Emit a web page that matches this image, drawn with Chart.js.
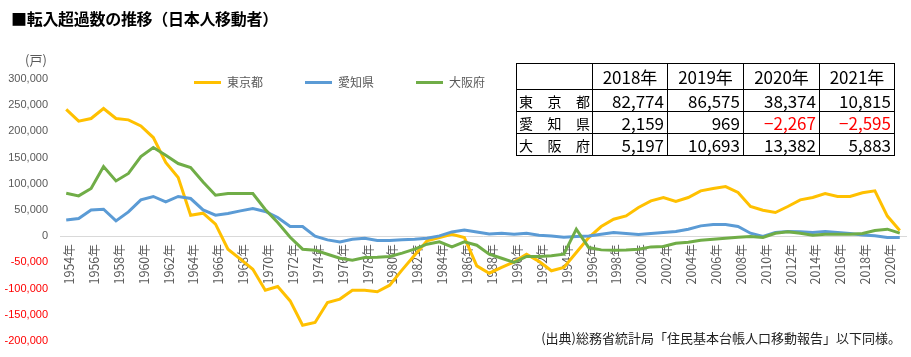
<!DOCTYPE html>
<html><head><meta charset="utf-8">
<script src="https://cdn.jsdelivr.net/npm/chart.js@4"></script>
<style>
html,body{margin:0;padding:0;background:#fff;}
#wrap{position:relative;width:911px;height:357px;overflow:hidden;font-family:"Noto Sans CJK JP",sans-serif;}
#c{position:absolute;left:0;top:0;}
.title{position:absolute;left:11px;top:7px;font-size:16px;font-weight:bold;color:#000;white-space:nowrap;line-height:22px;letter-spacing:-0.3px;}
.unit{position:absolute;left:25px;top:51px;font-size:13px;color:#595959;line-height:18px;}
.src{position:absolute;right:10px;top:329px;font-size:13px;color:#222;white-space:nowrap;line-height:18px;}
table{position:absolute;left:516px;top:63px;border-collapse:collapse;background:#fff;}
td{border:1px solid #000;padding:0 3px;height:21px;font-family:"Liberation Sans Narrow","Noto Sans CJK JP",sans-serif;font-size:17px;color:#000;text-align:right;line-height:20px;}
tr.h td{height:25px;text-align:center;}
td.lab{text-align:left;font-family:"Noto Sans CJK JP",sans-serif;font-size:14px;padding:0 2px;}
td.lab div{display:flex;justify-content:space-between;}
td.neg{color:#FF0000;}
</style></head>
<body>
<div id="wrap">
<canvas id="c" width="911" height="357"></canvas>
<div class="title">■転入超過数の推移（日本人移動者）</div>
<div class="unit">(戸)</div>
<table id="tbl"></table>
<div class="src">(出典)総務省統計局「住民基本台帳人口移動報告」以下同様。</div>
</div>
<script>
const years = [];
for (let y = 1954; y <= 2021; y++) years.push(y + '年');

const seriesNames = ['東京都', '愛知県', '大阪府'];

const tokyo = [242000,219500,224600,243700,224600,222000,210500,188300,140600,112000,
40000,43900,22900,-24800,-43900,-63000,-103000,-96000,-123500,-170000,
-164700,-126500,-120000,-103000,-103000,-106000,-93500,-64300,-36300,-9000,
-2500,3800,-2500,-56700,-70600,-59700,-49000,-34400,-48000,-66000,
-59800,-31000,-2500,18500,32400,38700,54700,67400,73800,66200,
73800,86500,91000,94800,83400,56700,49600,45200,56700,69300,
73800,81500,75800,75800,82774,86575,38374,10815];

const aichi = [31100,33800,50200,51500,29200,46400,69300,75800,65500,75800,
71900,50200,40100,43300,48300,52900,47100,35700,18500,18500,
0,-7000,-10800,-5700,-3800,-8200,-8200,-7000,-5700,-3800,
600,8200,12000,8200,4400,5700,3800,5700,1900,600,
-1900,-600,600,3800,7000,5100,3200,5100,7000,8900,
13400,19700,22300,22300,18500,5700,-600,7000,8900,8300,
7000,8900,7000,5000,2159,969,-2267,-2595];

const osaka = [82000,77000,91000,133000,105500,119700,152100,169300,154600,138700,
131100,103600,78200,81500,81500,81300,51000,26000,-2000,-24800,
-26700,-34400,-42000,-45800,-40700,-40000,-38700,-32400,-24800,-15300,
-10800,-20400,-10800,-17200,-34400,-42000,-50200,-38700,-38700,-37500,
-34400,13400,-21600,-26100,-26700,-26100,-24800,-20400,-19700,-13400,
-11500,-7600,-5700,-3800,-1900,-600,-2500,5700,8300,5700,
1900,3800,3800,3800,5197,10693,13382,5883];

const yMin = -200000, yMax = 300000, yStep = 50000;

const tableYears = ['2018年','2019年','2020年','2021年'];
const tableRows = [
  ['東','京','都'],
  ['愛','知','県'],
  ['大','阪','府']
];
const tableValues = [
  [82774, 86575, 38374, 10815],
  [2159, 969, -2267, -2595],
  [5197, 10693, 13382, 5883]
];

(function(){
  const t = document.getElementById('tbl');
  const widths = [77,76,77,77,76];
  let html = '<tr class="h"><td style="width:'+(widths[0]-8)+'px"></td>';
  tableYears.forEach((y,i)=>{ html += '<td style="width:'+(widths[i+1]-8)+'px">'+y+'</td>'; });
  html += '</tr>';
  tableRows.forEach((r,ri)=>{
    html += '<tr><td class="lab"><div><span>'+r[0]+'</span><span>'+r[1]+'</span><span>'+r[2]+'</span></div></td>';
    tableValues[ri].forEach(v=>{
      const s = v < 0 ? '−' + Math.abs(v).toLocaleString('en-US') : v.toLocaleString('en-US');
      html += '<td class="'+(v<0?'neg':'')+'">'+s+'</td>';
    });
    html += '</tr>';
  });
  t.innerHTML = html;
})();

const colors = ['#FFC000', '#5B9BD5', '#70AD47'];

const legendMover = {
  id: 'legendMover',
  afterLayout(chart) {
    const lg = chart.legend;
    if (!lg) return;
    lg.left = 152; lg.top = 34.5;
    lg.width = 700; lg.height = 100;
    lg.right = lg.left + lg.width; lg.bottom = lg.top + lg.height;
  }
};

new Chart(document.getElementById('c'), {
  type: 'line',
  data: {
    labels: years,
    datasets: [tokyo, aichi, osaka].map((d, i) => ({
      label: seriesNames[i],
      data: d,
      borderColor: colors[i],
      backgroundColor: colors[i],
      borderWidth: 3,
      pointRadius: 0,
      tension: 0,
      order: 3 - i
    }))
  },
  options: {
    responsive: false,
    animation: false,
    layout: { padding: { top: 78, bottom: 16, left: 5, right: 5 } },
    plugins: {
      title: { display: false },
      tooltip: { enabled: false },
      legend: {
        display: true,
        position: 'top',
        align: 'start',
        maxHeight: 1,
        labels: {
          boxWidth: 27,
          boxHeight: 3,
          padding: 42,
          color: '#595959',
          font: { family: '"Noto Sans CJK JP", sans-serif', size: 12 },
          sort: (a, b) => a.datasetIndex - b.datasetIndex,
          generateLabels: (chart) => chart.data.datasets.map((ds, i) => ({
            text: ds.label, fillStyle: ds.borderColor, strokeStyle: ds.borderColor,
            lineWidth: 0, hidden: false, datasetIndex: i, fontColor: '#595959'
          }))
        }
      }
    },
    scales: {
      x: {
        type: 'category',
        position: { y: 0 },
        offset: true,
        afterFit: (s) => { s.paddingLeft = 0; s.paddingRight = 0; },
        grid: { display: false, drawTicks: false },
        border: { display: true, color: '#D9D9D9', width: 1 },
        ticks: {
          autoSkip: false,
          minRotation: 90,
          maxRotation: 90,
          padding: 8,
          labelOffset: 3,
          color: '#595959',
          font: { family: '"Liberation Sans Narrow", "Noto Sans CJK JP", sans-serif', size: 12.5 },
          callback: function(val, idx) { return idx % 2 === 0 ? this.getLabelForValue(val) : ''; }
        }
      },
      y: {
        min: yMin, max: yMax,
        afterFit: (s) => { s.width = 55; s.paddingTop = 0; s.paddingBottom = 0; },
        grid: { display: false, drawTicks: false },
        border: { display: false },
        ticks: {
          stepSize: yStep,
          padding: 12,
          color: (ctx) => (ctx.tick && ctx.tick.value < 0) ? '#FF0000' : '#595959',
          font: { family: '"Liberation Sans", sans-serif', size: 11 },
          callback: (v) => Number(v).toLocaleString('en-US')
        }
      }
    }
  },
  plugins: [legendMover]
});
</script>
</body></html>
